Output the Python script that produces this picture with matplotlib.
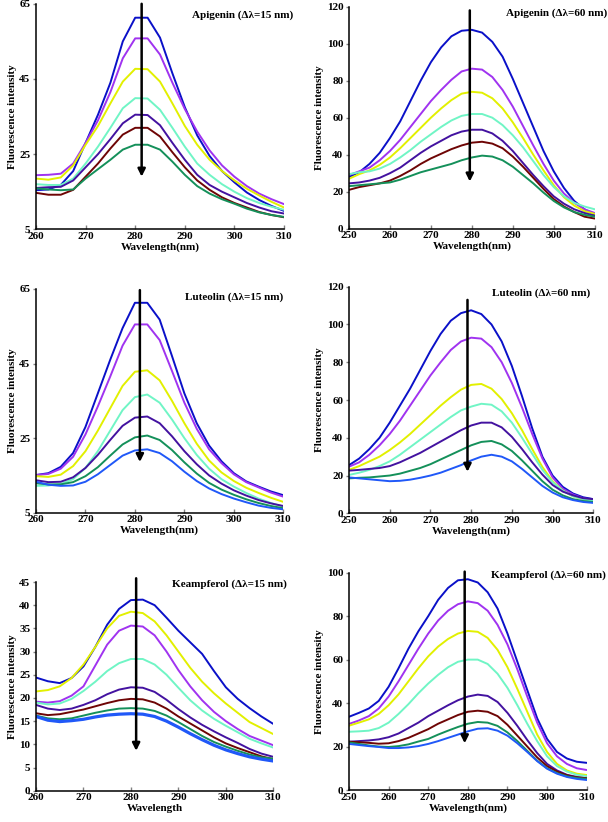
import matplotlib
matplotlib.use("Agg")
import matplotlib.pyplot as plt
import numpy as np

plt.rcParams['font.family'] = ['Liberation Serif', 'DejaVu Serif']
plt.rcParams['font.weight'] = 'bold'

# ---------------- data ----------------
wl15 = [260, 262.5, 265, 267.5, 270, 272.5, 275, 277.5, 280, 282.5, 285,
        287.5, 290, 292.5, 295, 297.5, 300, 302.5, 305, 307.5, 310]
wl60 = [250, 252.5, 255, 257.5, 260, 262.5, 265, 267.5, 270, 272.5, 275, 277.5,
        280, 282.5, 285, 287.5, 290, 292.5, 295, 297.5, 300, 302.5, 305, 307.5, 310]

C_BLUE = '#0A10C8'
C_PURPLE = '#A033F0'
C_YELLOW = '#E2F000'
C_AQUA = '#70F5C5'
C_INDIGO = '#4312A0'
C_MAROON = '#6E0505'
C_GREEN = '#14905A'
C_LBLUE = '#2058F8'

# Apigenin, delta 15
api15_blue = [15.4, 15.6, 16.8, 20.5, 28, 35.5, 44, 55, 61.3, 61.3, 56, 46.5, 37.5, 30, 24.5, 20.5, 17.5, 14.8, 12.8, 11.2, 9.9]
api15_purple = [19.4, 19.5, 19.8, 22.5, 28, 34, 41.5, 50.5, 55.8, 55.8, 51.5, 44, 37, 31, 26, 22, 19, 16.5, 14.5, 13, 11.7]
api15_yellow = [18.5, 18.2, 18.8, 22, 27.5, 32.5, 38.5, 44.3, 47.7, 47.6, 44.3, 38.5, 32.5, 27.5, 23.5, 20.5, 18, 15.8, 14, 12.3, 10.8]
api15_aqua = [17.0, 16.8, 16.8, 18.5, 22.5, 27, 32, 37.2, 39.9, 39.8, 36.8, 32, 27, 22.5, 19.5, 17, 15, 13.3, 12, 11, 10.2]
api15_indigo = [16.0, 16.2, 16.3, 18, 21.5, 25, 29, 33.2, 35.5, 35.4, 32.7, 28, 23.5, 19.5, 16.8, 15, 13.5, 12, 10.8, 9.8, 9.2]
api15_maroon = [14.7, 14.2, 14.2, 15.5, 19, 22.5, 26.5, 30.2, 32, 32, 29.7, 25.5, 21.5, 18, 15.5, 13.5, 12, 10.8, 9.6, 8.8, 8.2]
api15_green = [15.9, 15.6, 15.4, 15.6, 18.5, 21, 23.5, 26.2, 27.5, 27.5, 26.2, 23, 19.5, 16.5, 14.5, 13, 11.8, 10.5, 9.5, 8.8, 8.3]

# Apigenin, delta 60
api60_blue = [28, 30.5, 35, 41, 49, 58, 69, 80, 90, 98, 104, 107, 107.5, 106, 101, 93, 81, 68, 55, 42, 31, 22, 15, 10.5, 7.5]
api60_purple = [29, 31, 33, 37, 42, 48, 55, 62, 69, 75, 80.5, 85, 86.5, 86, 82, 75, 66, 55.5, 45, 35, 26, 19, 14, 10.5, 8.5]
api60_yellow = [27, 29.5, 31.5, 34.5, 38.5, 43.5, 49, 54.5, 60, 65, 69.5, 73, 74, 73.5, 70.5, 65, 57.5, 49, 40, 31.5, 23.5, 17, 12.5, 9.5, 8]
api60_aqua = [29.5, 30.5, 31, 32.5, 35, 38.5, 42.5, 47, 51, 55, 58.5, 61, 62, 62, 60, 56, 50.5, 44, 36.5, 29, 22.5, 17.5, 14, 12, 10.5]
api60_indigo = [24.5, 25, 26, 27.5, 30, 33, 37, 41, 44.5, 47.5, 50.5, 52.5, 53.5, 53.5, 51.5, 47.5, 42, 35.5, 29, 23, 17.5, 13.5, 10.5, 8.5, 7]
api60_maroon = [21, 22.5, 23.5, 24.5, 26, 28.5, 31.5, 35, 38, 40.5, 43, 45, 46.5, 47, 46, 43.5, 39, 33.5, 27.5, 21.5, 16, 12, 9, 6.5, 5.5]
api60_green = [23, 23.5, 24, 24.5, 25, 26.5, 28.5, 30.5, 32, 33.5, 35, 37, 38.5, 39.5, 39, 37, 33.5, 29, 24.5, 19.5, 15, 11.5, 9, 7.5, 6.5]

# Luteolin, delta 15
lut15_blue = [15.1, 15.6, 17.3, 21, 28, 37, 46, 54.5, 61.3, 61.3, 56.8, 47, 37, 29, 23, 18.8, 15.6, 13.4, 12, 10.7, 9.7]
lut15_purple = [15.1, 15.4, 16.8, 20, 26, 33.5, 41.5, 49.8, 55.5, 55.5, 51.3, 43, 34.5, 27.5, 22, 18.3, 15.3, 13.2, 11.8, 10.4, 9.3]
lut15_yellow = [14.8, 14.6, 15.2, 17.5, 21.5, 27, 33, 39, 42.8, 43.2, 40.5, 35, 29, 23.5, 19, 15.8, 13.5, 11.7, 10.3, 9, 7.9]
lut15_aqua = [12.2, 12.3, 12.7, 14, 17, 21.5, 27, 32.5, 36, 36.7, 34.5, 30, 25, 20.5, 16.8, 14, 12, 10.3, 8.8, 7.6, 6.6]
lut15_indigo = [13.7, 13.2, 13.3, 14.5, 17, 20.5, 24.5, 28.3, 30.5, 30.8, 29, 25.5, 21.5, 18, 15, 12.8, 11, 9.6, 8.4, 7.5, 6.8]
lut15_green = [12.9, 12.6, 12.6, 13.2, 14.8, 17.2, 20.3, 23.3, 25.2, 25.7, 24.5, 21.8, 18.5, 15.5, 13, 11.2, 9.8, 8.6, 7.6, 6.8, 6.2]
lut15_lblue = [13.3, 12.5, 12.2, 12.3, 13.3, 15.3, 17.8, 20.3, 21.7, 22, 21, 18.8, 16, 13.5, 11.5, 10, 8.8, 7.8, 6.9, 6.3, 5.9]

# Luteolin, delta 60
lut60_blue = [25.5, 29, 34, 40, 48, 57, 66, 76, 86, 95, 102, 106, 107.5, 105.5, 100, 91, 78, 62, 45, 30, 20, 14, 10.5, 8.5, 7.5]
lut60_purple = [24.7, 27, 31, 36, 42, 49, 57, 65, 73, 80, 86.5, 91, 93, 92.5, 88, 80, 69, 56, 42, 29, 19, 13, 10, 8, 7]
lut60_yellow = [23, 25, 27.5, 30, 33.5, 37.5, 42, 47, 52, 57, 61.5, 65.5, 68, 68.5, 66, 60.5, 53, 44, 34, 24.5, 17, 12, 9, 7.5, 6.5]
lut60_aqua = [20.3, 21.5, 23, 25, 27.5, 31, 35, 39, 43, 47, 51, 54.5, 56.5, 58, 57.5, 54, 48, 40, 31.5, 23, 16.5, 12, 9, 7.5, 6.5]
lut60_indigo = [22.6, 23, 23.5, 24, 25, 27, 29.5, 32, 35, 38, 41, 44, 46.5, 48, 48, 45.5, 40.5, 34, 27, 20.5, 15, 11.5, 9.5, 8, 7.5]
lut60_green = [18.5, 18.8, 19, 19.5, 20, 21, 22.5, 24, 26, 28.5, 31, 33.5, 36, 37.8, 38.3, 36.5, 33, 28, 22.5, 17, 12.5, 9.5, 7.5, 6.5, 6]
lut60_lblue = [19, 18.5, 18, 17.5, 17, 17.2, 17.8, 18.8, 20, 21.5, 23.5, 25.5, 28, 30, 31, 30, 27.5, 23.5, 19, 14.5, 11, 8.5, 7, 6, 5.5]

# Keampferol, delta 15
kea15_blue = [24.4, 23.6, 23.2, 24.3, 26.8, 31, 35.8, 39.2, 41.1, 41.2, 40, 37.3, 34.5, 32, 29.5, 25.8, 22.3, 19.8, 17.8, 16, 14.4]
kea15_yellow = [21.4, 21.7, 22.5, 24.3, 27.2, 31, 35, 37.7, 38.6, 38.3, 36.5, 33.5, 30, 26.5, 23.5, 21, 18.8, 16.8, 14.8, 13.5, 12.2]
kea15_purple = [19.2, 19, 19.3, 20.5, 22.5, 27, 31.5, 34.5, 35.6, 35.4, 33.5, 30, 26, 22.5, 19.5, 17, 15, 13.3, 11.8, 10.8, 9.8]
kea15_aqua = [19, 18.6, 18.8, 19.8, 21.5, 23.5, 25.8, 27.5, 28.4, 28.4, 27.2, 25, 22.2, 19.5, 17.3, 15.5, 14, 12.6, 11.2, 10.2, 9.3]
kea15_indigo = [18.5, 17.7, 17.4, 17.7, 18.5, 19.5, 20.8, 21.8, 22.3, 22.2, 21.3, 19.6, 17.6, 15.8, 14.2, 12.8, 11.5, 10.3, 9, 8, 7.3]
kea15_maroon = [16.7, 16.3, 16.5, 17, 17.5, 18.2, 18.9, 19.5, 19.8, 19.7, 19, 17.7, 16, 14.5, 13, 11.5, 10.2, 9.2, 8.3, 7.4, 6.8]
kea15_green = [16.2, 15.6, 15.4, 15.6, 16.2, 16.8, 17.3, 17.7, 17.8, 17.7, 17.2, 16.2, 14.8, 13.3, 11.8, 10.5, 9.5, 8.6, 7.8, 7.2, 6.9]
kea15_lblue = [16, 15.2, 14.9, 15.1, 15.4, 15.9, 16.3, 16.5, 16.6, 16.5, 16, 15, 13.7, 12.3, 11, 9.8, 8.8, 8, 7.3, 6.8, 6.4]

# Keampferol, delta 60
kea60_blue = [33.7, 35.5, 37.5, 41, 47.5, 56, 65, 73, 80, 87.5, 93, 96.5, 97, 95.5, 91, 83.5, 72, 59, 46, 33, 23.5, 17.5, 14.5, 13, 12.5]
kea60_purple = [30.4, 32, 34, 37.5, 43, 50, 57.5, 65, 72, 78, 82.5, 85.5, 86.8, 86, 82.5, 76, 67, 55.5, 43, 31, 21.5, 15.5, 12, 10, 9.2]
kea60_yellow = [29.6, 31, 32.5, 35, 39, 44, 50, 56, 61.5, 66, 69.5, 72, 73.2, 72.8, 70, 64.5, 56.5, 46.5, 36, 25.5, 17.5, 12, 9, 7.5, 6.9]
kea60_aqua = [26.8, 27, 27.3, 28.5, 31, 35, 39.5, 44.5, 49, 53, 56.5, 59, 60, 60, 58, 53.5, 47, 39, 30.5, 22.5, 15.5, 11, 8.5, 7, 6.4]
kea60_indigo = [22.2, 22.5, 22.8, 23.3, 24.3, 26, 28.5, 31, 34, 36.5, 39, 41.3, 43, 43.9, 43.3, 40.5, 35.5, 29.5, 23, 17, 12, 9, 7, 6, 5.4]
kea60_maroon = [22.2, 22, 21.7, 21.3, 21.5, 22.5, 24, 26, 28, 30.5, 32.5, 34.5, 36, 36.5, 36, 34, 30, 25, 20, 15, 11, 8.5, 6.8, 5.8, 5.4]
kea60_green = [21.9, 21.2, 20.5, 20, 19.8, 20.2, 21, 22.3, 23.5, 25.5, 27.3, 29, 30.5, 31.3, 31, 29.5, 26.5, 22.5, 18, 13.5, 10, 7.8, 6.3, 5.5, 5.1]
kea60_lblue = [21.2, 20.7, 20.2, 19.8, 19.3, 19.3, 19.6, 20.2, 21.2, 22.5, 24, 25.5, 27, 28.2, 28.4, 27.3, 25, 21.5, 17.5, 13.3, 9.8, 7.5, 6, 5.1, 4.6]

panels = [
    dict(title='Apigenin (\u0394\u03bb=15 nm)', x=wl15, xlim=(260, 310), xt=[260, 270, 280, 290, 300, 310],
         ylim=(5, 65), yt=[5, 25, 45, 65], xlabel='Wavelength(nm)',
         series=[(api15_blue, C_BLUE), (api15_purple, C_PURPLE), (api15_yellow, C_YELLOW), (api15_aqua, C_AQUA),
                 (api15_indigo, C_INDIGO), (api15_maroon, C_MAROON), (api15_green, C_GREEN)],
         pos=[36, 3.8, 284, 229.3], tpos=(293, 15), arrow=(281.3, 65, 19)),
    dict(title='Apigenin (\u0394\u03bb=60 nm)', x=wl60, xlim=(250, 310), xt=[250, 260, 270, 280, 290, 300, 310],
         ylim=(0, 120), yt=[0, 20, 40, 60, 80, 100, 120], xlabel='Wavelength(nm)',
         series=[(api60_blue, C_BLUE), (api60_purple, C_PURPLE), (api60_yellow, C_YELLOW), (api60_aqua, C_AQUA),
                 (api60_indigo, C_INDIGO), (api60_maroon, C_MAROON), (api60_green, C_GREEN)],
         pos=[349, 6.7, 594.7, 228.7], tpos=(607, 12.7), arrow=(279.5, 118, 25.5)),
    dict(title='Luteolin (\u0394\u03bb=15 nm)', x=wl15, xlim=(260, 310), xt=[260, 270, 280, 290, 300, 310],
         ylim=(5, 65), yt=[5, 25, 45, 65], xlabel='Wavelength(nm)',
         series=[(lut15_blue, C_BLUE), (lut15_purple, C_PURPLE), (lut15_yellow, C_YELLOW), (lut15_aqua, C_AQUA),
                 (lut15_indigo, C_INDIGO), (lut15_green, C_GREEN), (lut15_lblue, C_LBLUE)],
         pos=[36, 289, 283.3, 512.7], tpos=(283, 297), arrow=(281, 64.7, 18.6)),
    dict(title='Luteolin (\u0394\u03bb=60 nm)', x=wl60, xlim=(250, 310), xt=[250, 260, 270, 280, 290, 300, 310],
         ylim=(0, 120), yt=[0, 20, 40, 60, 80, 100, 120], xlabel='Wavelength(nm)',
         series=[(lut60_blue, C_BLUE), (lut60_purple, C_PURPLE), (lut60_yellow, C_YELLOW), (lut60_aqua, C_AQUA),
                 (lut60_indigo, C_INDIGO), (lut60_green, C_GREEN), (lut60_lblue, C_LBLUE)],
         pos=[349, 286.7, 593.3, 513.3], tpos=(590, 293), arrow=(279.1, 113, 22)),
    dict(title='Keampferol (\u0394\u03bb=15 nm)', x=wl15, xlim=(260, 310), xt=[260, 270, 280, 290, 300, 310],
         ylim=(0, 45), yt=[0, 5, 10, 15, 20, 25, 30, 35, 40, 45], xlabel='Wavelength',
         series=[(kea15_blue, C_BLUE), (kea15_yellow, C_YELLOW), (kea15_purple, C_PURPLE), (kea15_aqua, C_AQUA),
                 (kea15_indigo, C_INDIGO), (kea15_maroon, C_MAROON), (kea15_green, C_GREEN), (kea15_lblue, C_LBLUE)],
         pos=[36, 582, 273.3, 790.7], tpos=(287, 584), arrow=(281.1, 45.8, 8.6)),
    dict(title='Keampferol (\u0394\u03bb=60 nm)', x=wl60, xlim=(250, 310), xt=[250, 260, 270, 280, 290, 300, 310],
         ylim=(0, 100), yt=[0, 20, 40, 60, 80, 100], xlabel='Wavelength(nm)',
         series=[(kea60_blue, C_BLUE), (kea60_purple, C_PURPLE), (kea60_yellow, C_YELLOW), (kea60_aqua, C_AQUA),
                 (kea60_indigo, C_INDIGO), (kea60_maroon, C_MAROON), (kea60_green, C_GREEN), (kea60_lblue, C_LBLUE)],
         pos=[349, 572.7, 586.7, 790], tpos=(606, 575), arrow=(279.2, 100.5, 21.5)),
]

W, H = 608, 822
fig = plt.figure(figsize=(W / 100, H / 100), dpi=100)

for i, p in enumerate(panels):
    l, t, r, b = p['pos']
    ax = fig.add_axes([l / W, 1 - b / H, (r - l) / W, (b - t) / H])
    for j, (vals, col) in enumerate(p['series']):
        lw = 1.4
        if i == 4 and j == len(p['series']) - 1:
            lw = 2.3
        ax.plot(p['x'], vals, color=col, lw=lw, solid_capstyle='round',
                solid_joinstyle='round', zorder=2 + j * 0.01)
    ax.set_xlim(*p['xlim'])
    ax.set_ylim(*p['ylim'])
    ax.set_xticks(p['xt'])
    ax.set_yticks(p['yt'])
    ax.spines['top'].set_visible(False)
    ax.spines['right'].set_visible(False)
    ax.spines['left'].set_linewidth(1.1)
    ax.spines['bottom'].set_linewidth(1.1)
    ax.tick_params(axis='x', direction='in', length=3, width=1, color='#808080', pad=2, labelsize=8)
    ax.tick_params(axis='y', direction='out', length=2.5, width=1, color='#808080', pad=1.5, labelsize=8)
    for lab in ax.get_xticklabels() + ax.get_yticklabels():
        lab.set_fontweight('bold')
    ax.set_xlabel(p['xlabel'], fontsize=8, fontweight='bold', labelpad=1)
    ax.set_ylabel('Fluorescence intensity', fontsize=8, fontweight='bold', labelpad=2)
    ax.set_facecolor('none')
    xa, ytop, ybot = p['arrow']
    ax.annotate('', xy=(xa, ybot), xytext=(xa, ytop),
                arrowprops=dict(arrowstyle='-|>', color='black', lw=1.8, mutation_scale=11,
                                shrinkA=0, shrinkB=0),
                annotation_clip=False, zorder=5)
    tx, ty = p['tpos']
    fig.text(tx / W, 1 - ty / H, p['title'], ha='right', va='center', fontsize=8, fontweight='bold')

fig.savefig('out.png', dpi=100, facecolor='white')
